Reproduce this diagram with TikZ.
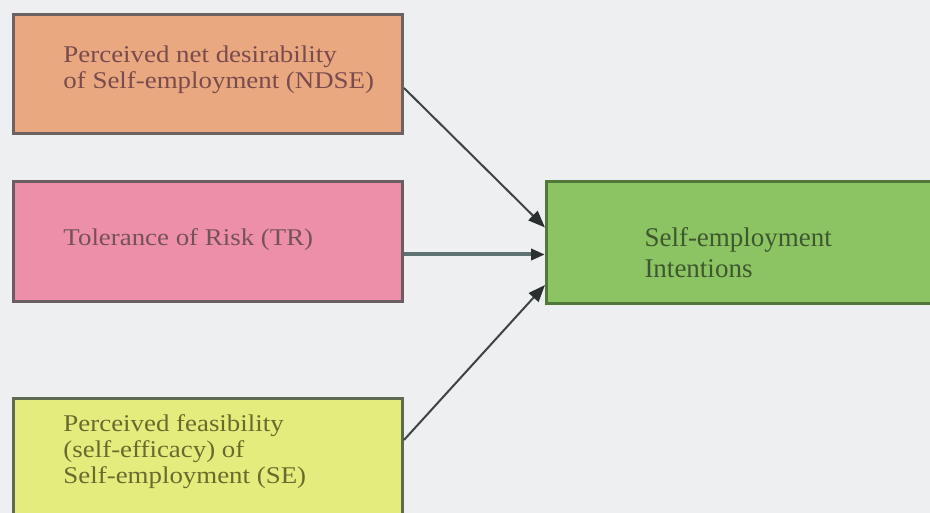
\documentclass[tikz,border=0pt]{standalone}
\usepackage{fontspec}
\setmainfont{Liberation Serif}
\newfontfamily\widefont[FakeStretch=1.12]{Liberation Serif}
\usetikzlibrary{arrows.meta,calc}

\definecolor{bgcol}{HTML}{EEEFF1}
\definecolor{ndsefill}{HTML}{E9A880}
\definecolor{ndseline}{HTML}{6B6264}
\definecolor{ndsetext}{HTML}{7A4B4D}
\definecolor{trfill}{HTML}{EE8FAA}
\definecolor{trline}{HTML}{6B5E62}
\definecolor{trtext}{HTML}{755257}
\definecolor{sefill}{HTML}{E4EC7D}
\definecolor{seline}{HTML}{5C6A50}
\definecolor{setext}{HTML}{6A6A2E}
\definecolor{outfill}{HTML}{8DC463}
\definecolor{outline}{HTML}{52773A}
\definecolor{outtext}{HTML}{3E572F}
\definecolor{arrowcol}{HTML}{3C4444}
\definecolor{trarrow}{HTML}{5E7272}
\definecolor{tipcol}{HTML}{2A3030}

% #1 height, #2 width, #3 first baseline below top, #4 left indent, #5 text
\newcommand\cellbody[5]{%
  \parbox[t][#1][t]{#2}{\raggedright\leftskip=#4\relax\parindent=0pt
  \rule{0pt}{#3}#5}}

\tikzset{
  factor/.style={draw, line width=3pt, inner sep=0pt, anchor=north west},
  link/.style={draw=arrowcol, line width=2pt,
    -{Triangle[length=17pt,width=13pt,color=tipcol]}},
}

\begin{document}
\begin{tikzpicture}[x=1pt,y=-1pt]
\useasboundingbox (0,0) rectangle (930,513);
\clip (0,0) rectangle (930,513);
\fill[bgcol] (0,0) rectangle (930,513);

\node[factor, draw=ndseline, fill=ndsefill, text=ndsetext] (ndse) at (12,13)
  {\widefont\fontsize{24}{26}\selectfont
   \cellbody{119pt}{389pt}{48pt}{50pt}{Perceived net desirability\\ of Self-employment (NDSE)}};

\node[factor, draw=trline, fill=trfill, text=trtext] (tr) at (12,180)
  {\widefont\fontsize{24}{26}\selectfont
   \cellbody{120pt}{389pt}{64pt}{50pt}{Tolerance of Risk (TR)}};

\node[factor, draw=seline, fill=sefill, text=setext] (se) at (12,397)
  {\widefont\fontsize{24}{26}\selectfont
   \cellbody{145pt}{389pt}{33pt}{50pt}{Perceived feasibility\\ (self-efficacy) of\\ Self-employment (SE)}};

\node[factor, draw=outline, fill=outfill, text=outtext] (out) at (545,180)
  {\fontsize{27}{31}\selectfont
   \cellbody{122pt}{400pt}{65pt}{98pt}{Self-employment\\ Intentions}};

\draw[link] ([yshift=-14pt]ndse.east) -- ([yshift=15pt]out.west);
\draw[link, draw=trarrow, line width=4pt,
      -{Triangle[length=14pt,width=11pt,color=tipcol]}]
  ([yshift=-13pt]tr.east) -- ([yshift=-13pt]tr.east -| out.west);
\draw[link] ([yshift=-43pt]se.north east) -- ([yshift=20pt]out.south west);
\end{tikzpicture}
\end{document}
